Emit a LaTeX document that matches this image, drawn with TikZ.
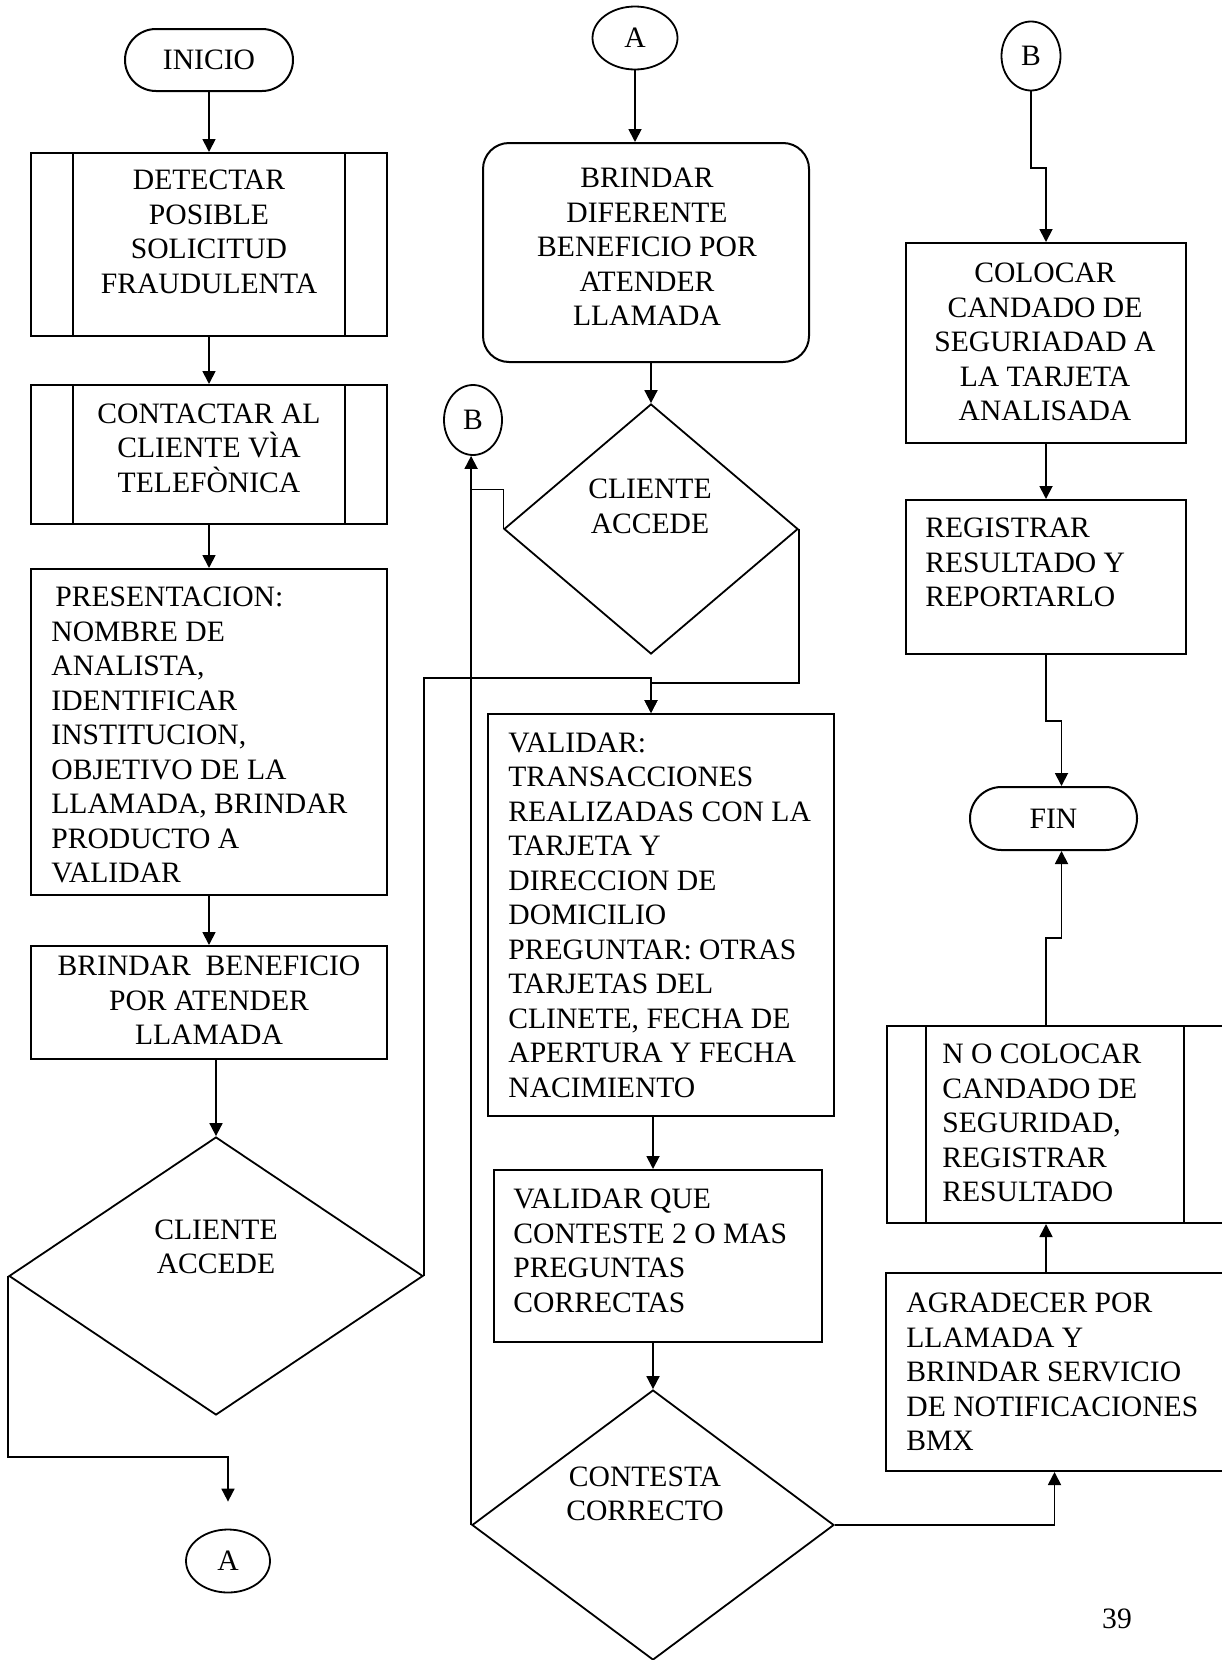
\documentclass[tikz,border=0pt]{standalone}
\usepackage{fontspec}
\setmainfont{Liberation Serif}
\usetikzlibrary{shapes.geometric,shapes.misc,arrows.meta}
\begin{document}
\begin{tikzpicture}[x=0.5pt,y=-0.5pt,>={Triangle[length=6.5pt,width=6.5pt]},
    font=\fontsize{14.8pt}{17.25pt}\selectfont]
    \tikzstyle{terminal}=[draw,line width=1pt,rounded rectangle,inner sep=0pt]
    \tikzstyle{connector}=[draw,line width=0.9pt,ellipse,inner sep=0pt]
    \tikzstyle{process}=[draw,line width=1pt,rectangle,inner sep=0pt]
    \tikzstyle{decision}=[draw,line width=0.9pt,diamond,inner sep=0pt]
    \tikzstyle{txt}=[inner sep=0pt]
    \tikzstyle{flow}=[line width=0.9pt,->]

    \useasboundingbox (0,0) rectangle (1221,1660);

    % left column
    \node[terminal,minimum width=84pt,minimum height=31pt] (inicio) at (209,60) {INICIO};
    \node[process,minimum width=178pt,minimum height=91.5pt] (detectar) at (209,244.5) {};
    \node[txt,align=center] (detectar-t) at (209,232) {DETECTAR\\POSIBLE\\SOLICITUD\\FRAUDULENTA};
    \node[process,minimum width=178pt,minimum height=69.5pt] (contactar) at (209,454.5) {};
    \node[txt,align=center] (contactar-t) at (209,448) {CONTACTAR AL\\CLIENTE VÌA\\TELEFÒNICA};
    \node[process,minimum width=178pt,minimum height=163pt] (presenta) at (209,732) {};
    \node[txt,align=left,anchor=west] (presenta-t) at (51,735) {\hspace{2pt}PRESENTACION:\\NOMBRE DE\\ANALISTA,\\IDENTIFICAR\\INSTITUCION,\\OBJETIVO DE LA\\LLAMADA, BRINDAR\\PRODUCTO A\\VALIDAR};
    \node[process,minimum width=178pt,minimum height=56.5pt] (brindar) at (209,1002.5) {};
    \node[txt,align=center] (brindar-t) at (209,1000.5) {BRINDAR\ \ BENEFICIO\\POR ATENDER\\LLAMADA};
    \node[decision,minimum width=207pt,minimum height=139pt] (accede1) at (216,1276) {};
    \node[txt,align=center] (accede1-t) at (216,1247) {CLIENTE\\ACCEDE};
    \node[connector,minimum width=42pt,minimum height=31.5pt] (irA) at (228,1561) {A};

    % middle column
    \node[connector,minimum width=42.5pt,minimum height=31.5pt] (desdeA) at (635,38) {A};
    \node[process,rounded corners=13pt,minimum width=163pt,minimum height=109.5pt] (diferente) at (646,252.5) {};
    \node[txt,align=center] (diferente-t) at (647,247) {BRINDAR\\DIFERENTE\\BENEFICIO POR\\ATENDER\\LLAMADA};
    \node[decision,minimum width=147pt,minimum height=125pt] (accede2) at (651,529) {};
    \node[txt,align=center] (accede2-t) at (650,506.5) {CLIENTE\\ACCEDE};
    \node[connector,minimum width=29pt,minimum height=35pt] (irB) at (473,420) {B};
    \node[process,minimum width=173pt,minimum height=201pt] (validar) at (661,915) {};
    \node[txt,align=left,anchor=west] (validar-t) at (508,915) {VALIDAR:\\TRANSACCIONES\\REALIZADAS CON LA\\TARJETA Y\\DIRECCION DE\\DOMICILIO\\PREGUNTAR: OTRAS\\TARJETAS DEL\\CLINETE, FECHA DE\\APERTURA Y FECHA\\NACIMIENTO};
    \node[process,minimum width=164pt,minimum height=86pt] (contesteQ) at (658,1256) {};
    \node[txt,align=left,anchor=west] (contesteQ-t) at (513,1251) {VALIDAR QUE\\CONTESTE 2 O MAS\\PREGUNTAS\\CORRECTAS};
    \node[decision,minimum width=181pt,minimum height=135pt] (correcto) at (653,1525) {};
    \node[txt,align=center] (correcto-t) at (645,1494) {CONTESTA\\CORRECTO};

    % right column
    \node[connector,minimum width=29.5pt,minimum height=34.5pt] (desdeB) at (1031,56) {B};
    \node[process,minimum width=140pt,minimum height=100pt] (candado) at (1046,343) {};
    \node[txt,align=center] (candado-t) at (1045,342) {COLOCAR\\CANDADO DE\\SEGURIADAD A\\LA TARJETA\\ANALISADA};
    \node[process,minimum width=140pt,minimum height=77pt] (registrar) at (1046,577) {};
    \node[txt,align=left,anchor=west] (registrar-t) at (925,562.5) {REGISTRAR\\RESULTADO Y\\REPORTARLO};
    \node[terminal,minimum width=83.5pt,minimum height=31.5pt] (fin) at (1053.5,818.5) {FIN};
    \node[process,minimum width=168pt,minimum height=98.5pt] (nocandado) at (1055,1124.5) {};
    \node[txt,align=left,anchor=west] (nocandado-t) at (942,1123) {N O COLOCAR\\CANDADO DE\\SEGURIDAD,\\REGISTRAR\\RESULTADO};
    \node[process,minimum width=168.5pt,minimum height=99pt] (agradecer) at (1054.5,1372) {};
    \node[txt,align=left,anchor=west] (agradecer-t) at (906,1372) {AGRADECER POR\\LLAMADA Y\\BRINDAR SERVICIO\\DE NOTIFICACIONES\\BMX};
    \node[txt] (pagina) at (1117,1619) {39};

    \foreach \n/\d in {detectar/21.5pt,contactar/21.5pt,nocandado/20pt}
        \draw[line width=1pt] ([xshift=\d]\n.north west) -- ([xshift=\d]\n.south west)
            ([xshift=-\d]\n.north east) -- ([xshift=-\d]\n.south east);

    \coordinate (finArriba) at ([xshift=4pt]fin.north);
    \coordinate (finAbajo) at ([xshift=4pt]fin.south);

    \draw[flow] (inicio) -- (detectar);
    \draw[flow] (detectar) -- (contactar);
    \draw[flow] (contactar) -- (presenta);
    \draw[flow] (presenta) -- (brindar);
    \draw[flow] (accede1.north |- brindar.south) -- (accede1.north);
    \draw[flow,shorten >=13.5pt] (accede1.west) -- (accede1.west |- 0,1457) -| (irA.north);
    \draw[flow] (accede1.east) |- (accede2.south |- 0,678) -- (accede2.south |- validar.north);

    \draw[flow] (desdeA.south) -- (desdeA.south |- diferente.north);
    \draw[flow] (accede2.north |- diferente.south) -- (accede2.north);
    \draw[flow] (accede2.east) |- (accede2.south |- 0,683) -- (accede2.south |- validar.north);
    \draw (accede2.west) |- (correcto.west |- 0,489);
    \draw[flow] (correcto.west) -- (correcto.west |- irB.south);
    \draw[flow] (validar.south -| correcto.north) -- (contesteQ.north -| correcto.north);
    \draw[flow] (contesteQ.south -| correcto.north) -- (correcto.north);
    \draw[flow] (correcto.east) -| (agradecer.south);

    \draw[flow] (desdeB.south) -- (desdeB.south |- 0,168) -| (candado.north);
    \draw[flow] (candado) -- (registrar);
    \draw[flow] (registrar.south) -- (registrar.south |- 0,721) -| (finArriba);
    \draw[flow] (agradecer.north -| candado.south) -- (nocandado.south -| candado.south);
    \draw[flow] (registrar.south |- nocandado.north) -- (registrar.south |- 0,938) -| (finAbajo);
\end{tikzpicture}
\end{document}
